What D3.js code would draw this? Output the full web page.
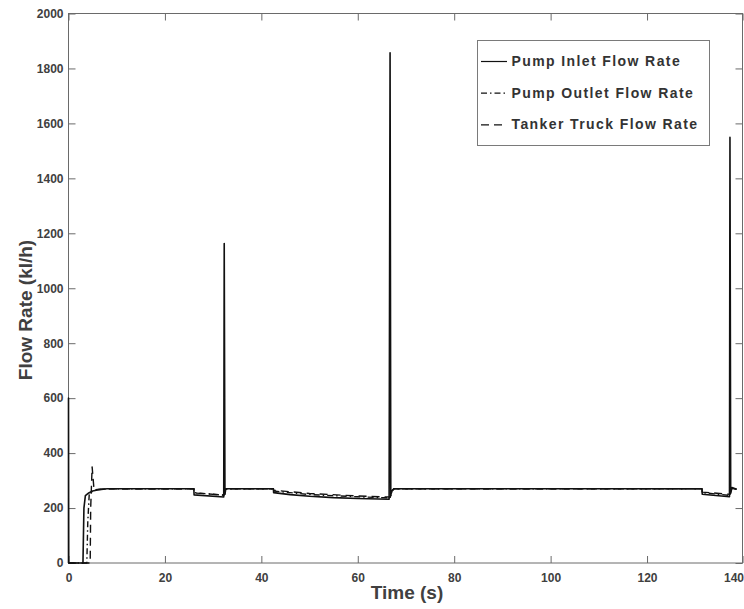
<!DOCTYPE html>
<html>
	<head>
		<meta charset="utf-8">
		<title> flow rate </title>
		<script src="https://cdnjs.cloudflare.com/ajax/libs/d3/7.8.5/d3.min.js"></script>
		<style>
			body { margin: 0; background: #fff; }
			text { font-family: "Liberation Sans", Arial, sans-serif; font-weight: bold; }
		</style>
	</head>

	<body>
		<script>

		// values (time in s, flow in kl/h)
		let inletTime = [0, 0, 0.05, 3.0, 3.2, 3.5, 4.2, 5, 6, 8, 26, 26.05, 32.2, 32.3, 32.45, 32.6, 33, 42.5, 42.55, 46, 50, 55, 60, 66.5, 66.7, 66.85, 67.0, 67.5, 131.4, 131.45, 137.1, 137.2, 137.35, 137.6, 138.6]
		let inletFlow = [0, 600, 0, 0, 200, 245, 255, 262, 266, 270, 270, 248, 240, 1163, 250, 268, 270, 270, 256, 249, 243, 238, 235, 232, 1857, 245, 262, 270, 270, 250, 241, 1549, 255, 275, 268]

		let outletTime = [0, 3.8, 4.0, 4.3, 5, 6, 8, 26, 26.05, 32.3, 32.6, 42.5, 42.55, 50, 60, 66.7, 67.1, 67.5, 131.4, 131.45, 137.2, 137.6, 138.6]
		let outletFlow = [0, 0, 150, 250, 262, 267, 270, 270, 256, 247, 270, 270, 262, 249, 241, 237, 262, 270, 270, 256, 246, 272, 268]

		let tankerTime = [0, 4.5, 4.6, 4.9, 5.3, 6, 8, 26, 26.05, 32.3, 32.6, 42.5, 42.55, 50, 60, 66.7, 67.1, 67.5, 131.4, 131.45, 137.2, 137.6, 138.6]
		let tankerFlow = [0, 0, 200, 350, 266, 268, 270, 270, 255, 247, 270, 270, 265, 253, 244, 240, 258, 270, 270, 258, 250, 270, 268]

		let seriesNames = ['Pump Inlet Flow Rate', 'Pump Outlet Flow Rate', 'Tanker Truck Flow Rate']
		let xTicks = [0, 20, 40, 60, 80, 100, 120, 140]
		let yTicks = [0, 200, 400, 600, 800, 1000, 1200, 1400, 1600, 1800, 2000]

		let width = 744,
			height = 609,
			plotLeft = 68.5,
			plotRight = 742.5,
			plotTop = 13.5,
			plotBottom = 563;

		let dashes = [null, '6,3,1.5,3', '8,5']

		let series = [
			inletTime.map((t, i) => [t, inletFlow[i]]),
			outletTime.map((t, i) => [t, outletFlow[i]]),
			tankerTime.map((t, i) => [t, tankerFlow[i]])
		]

		let xScale = d3.scaleLinear()
						.domain([0, 139.8])
						.range([plotLeft, plotRight])

		let yScale = d3.scaleLinear()
						.domain([0, 2000])
						.range([plotBottom, plotTop])

		let svg = d3.select('body')
					.append('svg')
					.attr('width', width)
					.attr('height', height)

		// frame and inward ticks, as in matlab
		let frameColor = '#6a6a6a'

		svg.append('rect')
			.attr('x', plotLeft)
			.attr('y', plotTop)
			.attr('width', plotRight - plotLeft)
			.attr('height', plotBottom - plotTop)
			.attr('fill', 'none')
			.attr('stroke', frameColor)
			.attr('stroke-width', 1)

		let xAxisBottom = d3.axisBottom(xScale).tickValues(xTicks).tickSizeInner(-7).tickSizeOuter(0).tickFormat(d3.format('d'))
		let xAxisTop = d3.axisTop(xScale).tickValues(xTicks).tickSizeInner(-7).tickSizeOuter(0).tickFormat('')
		let yAxisLeft = d3.axisLeft(yScale).tickValues(yTicks).tickSizeInner(-7).tickSizeOuter(0).tickFormat(d3.format('d'))
		let yAxisRight = d3.axisRight(yScale).tickValues(yTicks).tickSizeInner(-7).tickSizeOuter(0).tickFormat('')

		let gx = svg.append('g').attr('transform', `translate(0,${plotBottom})`).call(xAxisBottom)
		svg.append('g').attr('transform', `translate(0,${plotTop})`).call(xAxisTop)
		let gy = svg.append('g').attr('transform', `translate(${plotLeft},0)`).call(yAxisLeft)
		svg.append('g').attr('transform', `translate(${plotRight},0)`).call(yAxisRight)

		svg.selectAll('.domain').remove()
		svg.selectAll('.tick line').attr('stroke', frameColor)

		gx.selectAll('text')
			.attr('y', 10)
			.attr('dy', '0.71em')
			.attr('font-size', 12)
			.attr('fill', '#404040')
			.attr('text-anchor', d => d === 140 ? 'end' : 'middle')
			.attr('x', d => d === 140 ? plotRight + 1 - xScale(140) : 0)

		gy.selectAll('text')
			.attr('x', -5)
			.attr('font-size', 12)
			.attr('fill', '#404040')

		let line = d3.line()
					.x(d => xScale(d[0]))
					.y(d => yScale(d[1]))

		// curves on top of the frame, back to front so the solid line sits on top
		svg.selectAll('path.flow')
			.data([2, 1, 0])
			.enter()
			.append('path')
			.attr('class', 'flow')
			.attr('d', i => line(series[i]))
			.attr('fill', 'none')
			.attr('stroke', '#111')
			.attr('stroke-width', i => i === 0 ? 1.6 : 1.4)
			.attr('stroke-dasharray', i => dashes[i])
			.attr('stroke-linejoin', 'round')

		// axis titles
		svg.append('text')
			.text('Time (s)')
			.attr('x', 407)
			.attr('y', 599)
			.attr('text-anchor', 'middle')
			.attr('font-size', 19)
			.attr('fill', '#404040')

		svg.append('text')
			.text('Flow Rate (kl/h)')
			.attr('transform', 'translate(31.5,310) rotate(-90)')
			.attr('text-anchor', 'middle')
			.attr('font-size', 19)
			.attr('fill', '#404040')

		// legend
		let legend = svg.append('g')

		legend.append('rect')
			.attr('x', 477.5)
			.attr('y', 40.5)
			.attr('width', 232)
			.attr('height', 105)
			.attr('fill', '#fff')
			.attr('stroke', '#7a7a7a')

		legend.selectAll('line')
			.data(seriesNames)
			.enter()
			.append('line')
			.attr('x1', 481)
			.attr('x2', 507)
			.attr('y1', (d, i) => 61.5 + i * 31.7)
			.attr('y2', (d, i) => 61.5 + i * 31.7)
			.attr('stroke', '#111')
			.attr('stroke-width', 1.2)
			.attr('stroke-dasharray', (d, i) => dashes[i])

		legend.selectAll('text')
			.data(seriesNames)
			.enter()
			.append('text')
			.text(d => d)
			.attr('x', 511.5)
			.attr('y', (d, i) => 66 + i * 31.7)
			.attr('font-size', 14)
			.attr('letter-spacing', 1.4)
			.attr('fill', '#333')

		</script>
	</body>
</html>
